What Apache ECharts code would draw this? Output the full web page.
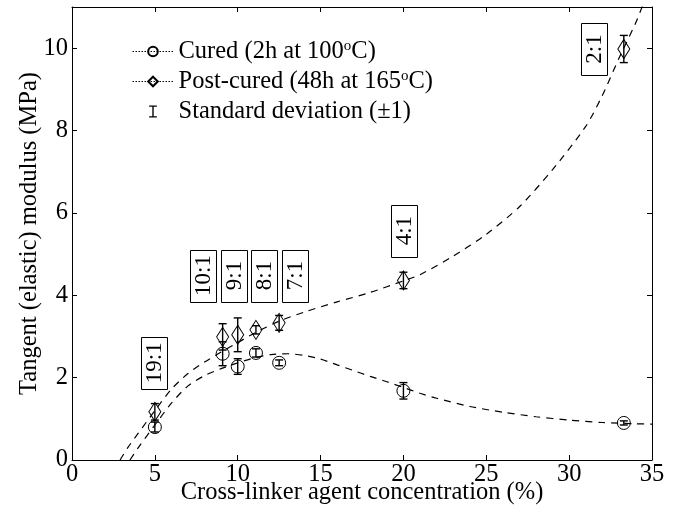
<!DOCTYPE html>
<html>
<head>
<meta charset="utf-8">
<script src="https://cdn.jsdelivr.net/npm/echarts@6/dist/echarts.min.js"></script>
<style>html,body{margin:0;padding:0;background:#fff}#c{width:689px;height:508px}</style>
</head>
<body>
<div id="c"></div>
<script>
// Measured data (concentration %, modulus MPa)
var concentration = [5, 9.09, 10, 11.1, 12.5, 20, 33.3];
var curedValues = [0.80, 2.58, 2.27, 2.60, 2.36, 1.68, 0.90];
var curedSD = [0.12, 0.29, 0.19, 0.10, 0.07, 0.20, 0.05];
var postValues = [1.17, 2.99, 3.04, 3.16, 3.33, 4.36, 9.98];
var postSD = [0.20, 0.32, 0.41, 0.10, 0.18, 0.20, 0.33];

// Fitted (dashed) curves
var postFitX = [2.9, 3.4, 4, 5, 6, 7, 8, 9, 10, 11, 12.5, 14, 16, 18, 20, 21, 23, 25, 27, 29, 31, 32, 33, 34, 34.5];
var postFitY = [0, 0.32, 0.65, 1.2, 1.72, 2.1, 2.38, 2.62, 2.85, 3.08, 3.37, 3.59, 3.84, 4.07, 4.35, 4.5, 4.95, 5.48, 6.15, 7.05, 8.1, 8.85, 9.75, 10.6, 11.1];
var curedFitX = [3.5, 4, 5, 6, 7, 8, 9, 10, 11, 12, 13, 14, 15, 16, 17, 18, 19, 20, 21, 22, 24, 26, 28, 30, 32, 34, 35];
var curedFitY = [0, 0.3, 0.85, 1.38, 1.8, 2.05, 2.22, 2.36, 2.48, 2.56, 2.58, 2.54, 2.45, 2.31, 2.17, 2.03, 1.9, 1.76, 1.62, 1.5, 1.3, 1.16, 1.05, 0.97, 0.91, 0.88, 0.87];

// Ratio annotations: text and anchor in data units
var ratioText = ['19:1', '10:1', '9:1', '8:1', '7:1', '4:1', '2:1'];
var ratioX = [4.95, 7.9, 9.78, 11.6, 13.46, 20.04, 31.5];
var ratioY = [2.36, 4.48, 4.48, 4.48, 4.48, 5.57, 9.98];

var xTicks = {min: 0, max: 35, interval: 5};
var yTicks = {min: 0, max: 11, interval: 2};

var FONT = 'Liberation Serif';
var FS = 24.5;
function zip(a, b) { return a.map(function (v, i) { return [v, b[i]]; }); }

var errData = [];
concentration.forEach(function (x, i) {
  errData.push([x, curedValues[i] - curedSD[i], curedValues[i] + curedSD[i]]);
  errData.push([x, postValues[i] - postSD[i], postValues[i] + postSD[i]]);
});
var labelData = ratioX.map(function (x, i) { return [x, ratioY[i]]; });

var axisCommon = {
  type: 'value',
  axisLine: {show: true, onZero: false, lineStyle: {color: '#000', width: 1}},
  axisTick: {show: true, inside: true, length: 5, lineStyle: {color: '#000', width: 1}},
  splitLine: {show: false}
};
function ax(extra, ticks) { return Object.assign({}, axisCommon, ticks, extra); }

var NAME_CURED = 'Cured (2h at 100oC)';
var NAME_POST = 'Post-cured (48h at 165oC)';
var NAME_SD = 'Standard deviation (±1)';

var chart = echarts.init(document.getElementById('c'));
chart.setOption({
  animation: false,
  backgroundColor: '#fff',
  grid: {left: 72, right: 37, top: 7, bottom: 48, containLabel: false, outerBoundsMode: 'none'},
  xAxis: [
    ax({position: 'bottom', name: 'Cross-linker agent concentration (%)', nameLocation: 'middle', nameGap: 20,
      nameMoveOverlap: false,
      nameTextStyle: {color: '#000', fontSize: FS, fontFamily: FONT, verticalAlign: 'top'},
      axisLabel: {color: '#000', fontSize: FS, fontFamily: FONT, margin: 2}}, xTicks),
    ax({position: 'top', axisLabel: {show: false}}, xTicks)
  ],
  yAxis: [
    ax({position: 'left', name: 'Tangent (elastic) modulus (MPa)', nameLocation: 'middle', nameGap: 30,
      nameMoveOverlap: false,
      nameTextStyle: {color: '#000', fontSize: FS, fontFamily: FONT},
      axisLabel: {color: '#000', fontSize: FS, fontFamily: FONT, margin: 4, showMaxLabel: false}}, yTicks),
    ax({position: 'right', axisLabel: {show: false}}, yTicks)
  ],
  legend: {
    orient: 'vertical', left: 127, top: 34, itemWidth: 41, itemHeight: 12, itemGap: 5,
    selectedMode: false,
    textStyle: {color: '#000', fontSize: FS, fontFamily: FONT,
      rich: {
        t: {color: '#000', fontSize: FS, fontFamily: FONT},
        s: {color: '#000', fontSize: 15, fontFamily: FONT, verticalAlign: 'top', lineHeight: 15}
      }},
    formatter: function (name) {
      if (name.indexOf('oC') > -1) {
        var p = name.split('oC');
        return '{t|' + p[0] + '}{s|o}{t|C' + p[1] + '}';
      }
      return '{t|' + name + '}';
    },
    data: [
      {name: NAME_CURED, lineStyle: {opacity: 1, type: [1.5, 1.5], width: 1, color: '#000'}},
      {name: NAME_POST, lineStyle: {opacity: 1, type: [1.5, 1.5], width: 1, color: '#000'}},
      {name: NAME_SD, icon: 'path://M0,0 H9 V1.6 H5.3 V12.4 H9 V14 H0 V12.4 H3.7 V1.6 H0 Z'}
    ]
  },
  series: [
    {
      type: 'line', name: 'fitPost', data: zip(postFitX, postFitY), smooth: 0.25, showSymbol: false,
      lineStyle: {color: '#000', width: 1.2, type: [7, 6]}, clip: true, silent: true, z: 1
    },
    {
      type: 'line', name: 'fitCured', data: zip(curedFitX, curedFitY), smooth: 0.25, showSymbol: false,
      lineStyle: {color: '#000', width: 1.2, type: [7, 6]}, clip: true, silent: true, z: 1
    },
    {
      type: 'line', name: NAME_CURED, data: zip(concentration, curedValues), symbol: 'circle', symbolSize: 13,
      showSymbol: true, lineStyle: {opacity: 0, color: '#000'},
      itemStyle: {color: 'rgba(255,255,255,0)', borderColor: '#000', borderWidth: 1}, z: 3
    },
    {
      type: 'line', name: NAME_POST, data: zip(concentration, postValues), symbol: 'diamond', symbolSize: [12, 19],
      showSymbol: true, lineStyle: {opacity: 0, color: '#000'},
      itemStyle: {color: 'rgba(255,255,255,0)', borderColor: '#000', borderWidth: 1}, z: 3
    },
    {
      type: 'custom', name: NAME_SD, data: errData, itemStyle: {color: '#000'}, z: 4, silent: true,
      encode: {x: 0, y: [1, 2]},
      renderItem: function (params, api) {
        var x = api.value(0);
        var top = api.coord([x, api.value(2)]);
        var bot = api.coord([x, api.value(1)]);
        var hw = 4;
        var st = {stroke: '#000', lineWidth: 1.4};
        return {
          type: 'group',
          children: [
            {type: 'line', shape: {x1: top[0], y1: top[1], x2: bot[0], y2: bot[1]}, style: st},
            {type: 'line', shape: {x1: top[0] - hw, y1: top[1], x2: top[0] + hw, y2: top[1]}, style: st},
            {type: 'line', shape: {x1: bot[0] - hw, y1: bot[1], x2: bot[0] + hw, y2: bot[1]}, style: st}
          ]
        };
      }
    },
    {
      type: 'custom', name: 'ratios', data: labelData, silent: true, z: 5,
      renderItem: function (params, api) {
        var c = api.coord([api.value(0), api.value(1)]);
        var w = 26, h = 52;
        return {
          type: 'group',
          children: [
            {type: 'rect', shape: {x: Math.round(c[0] - w / 2) + 0.5, y: Math.round(c[1] - h / 2) + 0.5, width: w, height: h},
              style: {fill: '#fff', stroke: '#000', lineWidth: 1}},
            {type: 'text', x: c[0] + 1, y: c[1], rotation: Math.PI / 2,
              style: {text: ratioText[params.dataIndex], fontSize: 23, fontFamily: FONT, fill: '#000',
                align: 'center', verticalAlign: 'middle'}}
          ]
        };
      }
    }
  ]
});
</script>
</body>
</html>
